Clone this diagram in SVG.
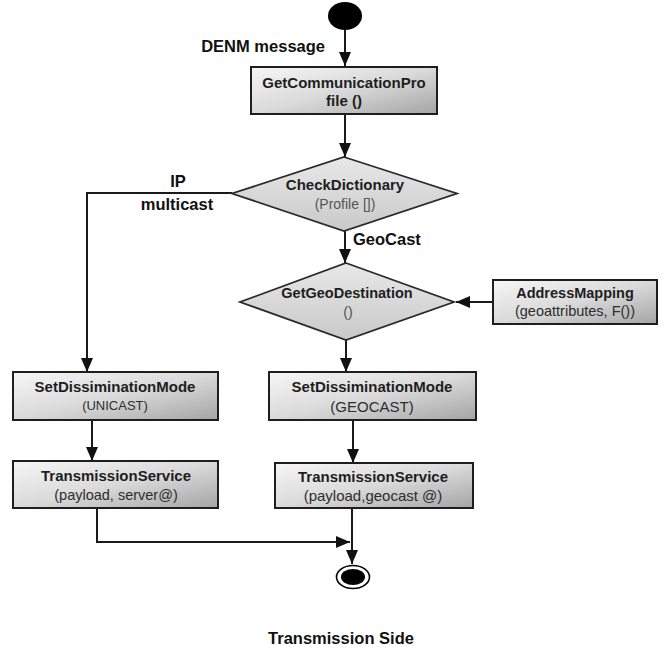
<svg xmlns="http://www.w3.org/2000/svg" width="664" height="650" viewBox="0 0 664 650">
<style>
.box{stroke:#1e1e1e;stroke-width:2;fill:url(#boxGrad)}
.dia{stroke:#2a2a2a;stroke-width:1.8;fill:url(#diaGrad)}
.t{font-family:"Liberation Sans",Arial,sans-serif;font-weight:bold;font-size:15px;fill:#1e1e1e;text-anchor:middle}
.s{font-family:"Liberation Sans",Arial,sans-serif;font-size:14.5px;fill:#2e2e2e;text-anchor:middle}
.lbl{font-family:"Liberation Sans",Arial,sans-serif;font-weight:bold;font-size:16.5px;fill:#111}
.c{fill:none;stroke:#1a1a1a;stroke-width:2}
</style>
<defs>
<linearGradient id="boxGrad" x1="0" y1="0" x2="1" y2="1">
<stop offset="0" stop-color="#f6f6f6"/>
<stop offset="0.5" stop-color="#dadada"/>
<stop offset="1" stop-color="#a4a4a4"/>
</linearGradient>
<linearGradient id="diaGrad" x1="0" y1="0" x2="0" y2="1">
<stop offset="0" stop-color="#e8e8e8"/>
<stop offset="1" stop-color="#c9c9c9"/>
</linearGradient>
<marker id="ah" markerUnits="userSpaceOnUse" markerWidth="14" markerHeight="12" refX="14" refY="6" orient="auto">
<path d="M0,0 L14,6 L0,12 z" fill="#111"/>
</marker>
</defs>
<rect width="664" height="650" fill="#fff"/>

<g id="connectors">
<line class="c" x1="345" y1="30" x2="345" y2="66" marker-end="url(#ah)"/>
<line class="c" x1="345" y1="114" x2="345" y2="157" marker-end="url(#ah)"/>
<polyline class="c" points="232,193 87,193 87,372" marker-end="url(#ah)"/>
<line class="c" x1="345" y1="231" x2="345" y2="263" marker-end="url(#ah)"/>
<line class="c" x1="493" y1="302" x2="456" y2="302" marker-end="url(#ah)"/>
<line class="c" x1="346" y1="340" x2="346" y2="372" marker-end="url(#ah)"/>
<line class="c" x1="92" y1="420" x2="92" y2="461" marker-end="url(#ah)"/>
<line class="c" x1="353" y1="420" x2="353" y2="463" marker-end="url(#ah)"/>
<polyline class="c" points="97,508 97,542 350,542" marker-end="url(#ah)"/>
<line class="c" x1="352" y1="508" x2="352" y2="564" marker-end="url(#ah)"/>
<text class="lbl" x="325" y="52" text-anchor="end">DENM message</text>
<text class="lbl" x="178" y="187" text-anchor="middle">IP</text>
<text class="lbl" x="177" y="210" text-anchor="middle">multicast</text>
<text class="lbl" x="353" y="245">GeoCast</text>
</g>

<g id="start">
<ellipse cx="345" cy="16" rx="17" ry="14" fill="#000"/>
</g>

<g id="getCommunicationProfile">
<rect class="box" x="251" y="67" width="186" height="47"/>
<text class="t" x="344" y="88">GetCommunicationPro</text>
<text class="t" x="344" y="106">file ()</text>
</g>

<g id="checkDictionary">
<polygon class="dia" points="344,157 457,193.5 344,231 232,193.5"/>
<text class="t" x="345" y="190">CheckDictionary</text>
<text class="s" x="345" y="209" style="fill:#555;font-size:14px">(Profile [])</text>
</g>

<g id="getGeoDestination">
<polygon class="dia" points="346,263 454,302 346,340 240,302"/>
<text class="t" x="347" y="298" style="font-size:14.5px">GetGeoDestination</text>
<text class="s" x="348" y="317" style="fill:#555">()</text>
</g>

<g id="addressMapping">
<rect class="box" x="493" y="280" width="164" height="44"/>
<text class="t" x="575" y="298" style="font-size:14.5px">AddressMapping</text>
<text class="s" x="575" y="316">(geoattributes, F())</text>
</g>

<g id="setDisseminationUnicast">
<rect class="box" x="13" y="372" width="205" height="48"/>
<text class="t" x="115" y="392">SetDissiminationMode</text>
<text class="s" x="115" y="410" style="font-size:13px">(UNICAST)</text>
</g>

<g id="transmissionServiceUnicast">
<rect class="box" x="13" y="461" width="205" height="47"/>
<text class="t" x="116" y="481">TransmissionService</text>
<text class="s" x="116" y="500">(payload, server@)</text>
</g>

<g id="setDisseminationGeocast">
<rect class="box" x="269" y="372" width="207" height="48"/>
<text class="t" x="372" y="392">SetDissiminationMode</text>
<text class="s" x="372" y="412" style="font-size:15px">(GEOCAST)</text>
</g>

<g id="transmissionServiceGeocast">
<rect class="box" x="275" y="463" width="198" height="45"/>
<text class="t" x="373" y="482">TransmissionService</text>
<text class="s" x="373" y="501" style="font-size:15px">(payload,geocast @)</text>
</g>

<g id="end">
<ellipse cx="353" cy="577" rx="16.5" ry="11.5" fill="#fff" stroke="#000" stroke-width="1.6"/>
<ellipse cx="353" cy="577" rx="12" ry="8" fill="#000"/>
</g>

<text class="lbl" x="341" y="644" text-anchor="middle">Transmission Side</text>
</svg>
